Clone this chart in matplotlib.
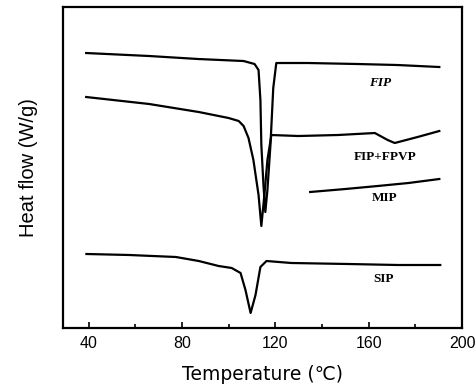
import matplotlib
matplotlib.use('Agg')
import matplotlib.pyplot as plt
from matplotlib.ticker import MultipleLocator

# ---------- data (arbitrary heat-flow units) ----------
fip_t = [39, 66, 87, 106.4, 111.1, 112.8, 113.6, 114.0, 114.9, 115.7, 116.6,
         117.9, 119.1, 120.4, 134, 155.3, 172.3, 190.2]
fip_h = [27.5, 27.2, 26.9, 26.7, 26.4, 25.8, 22.8, 18.3, 14.3, 11.6, 13.8,
         18.3, 24.0, 26.5, 26.5, 26.4, 26.3, 26.1]

fpvp_t = [39, 66, 87.2, 100, 104.3, 106.4, 108.5, 110.6, 112.8, 114.0, 115.3,
          116.6, 118.3, 129.8, 146.8, 162.6, 168.1, 171.1, 180.9, 190.2]
fpvp_h = [23.1, 22.4, 21.6, 21.0, 20.7, 20.2, 19.0, 16.8, 13.3, 10.2, 13.3,
          16.8, 19.3, 19.2, 19.3, 19.5, 18.8, 18.5, 19.1, 19.7]

mip_t = [134.9, 150, 163.8, 177, 190.2]
mip_h = [13.6, 13.9, 14.2, 14.5, 14.9]

sip_t = [39.1, 57.4, 77.4, 87.2, 95.7, 101.3, 105.1, 107.2, 109.4, 111.5,
         113.6, 116.2, 126.8, 151.1, 172.3, 190.6]
sip_h = [7.4, 7.3, 7.1, 6.7, 6.2, 6.0, 5.5, 3.8, 1.5, 3.3,
         6.1, 6.7, 6.5, 6.4, 6.3, 6.3]

labels = ['FIP', 'FIP+FPVP', 'MIP', 'SIP']
label_pos = [(165, 24.5), (166.8, 17.1), (166.8, 13.0), (166.4, 4.9)]
label_italic = [True, False, False, False]

# ---------- plot ----------
fig = plt.figure(figsize=(4.76, 3.9), dpi=100)
ax = fig.add_axes([0.132, 0.159, 0.839, 0.823])

for t, h in [(fip_t, fip_h), (fpvp_t, fpvp_h), (mip_t, mip_h), (sip_t, sip_h)]:
    ax.plot(t, h, color='black', linewidth=1.6, solid_joinstyle='round')

for lab, (x, y), it in zip(labels, label_pos, label_italic):
    ax.text(x, y, lab, ha='center', va='center', fontsize=9.5,
            fontweight='bold', family='Liberation Serif',
            style='italic' if it else 'normal')

ax.set_xlim(29, 200)
ax.set_ylim(0, 32.1)
ax.xaxis.set_major_locator(MultipleLocator(40))
ax.xaxis.set_minor_locator(MultipleLocator(20))
ax.set_yticks([])
ax.tick_params(axis='x', which='both', direction='in', width=1.2)
ax.tick_params(axis='x', which='major', length=4, labelsize=11.5, pad=6)
ax.tick_params(axis='x', which='minor', length=3)
for lab in ax.get_xticklabels():
    lab.set_family('Liberation Sans')
for s in ax.spines.values():
    s.set_linewidth(1.6)

ax.set_xlabel('Temperature (℃)', fontsize=13.5, family='DejaVu Sans', labelpad=10)
ax.set_ylabel('Heat flow (W/g)', fontsize=14.5, family='Liberation Sans', labelpad=18)

fig.savefig('out.png', dpi=100)
